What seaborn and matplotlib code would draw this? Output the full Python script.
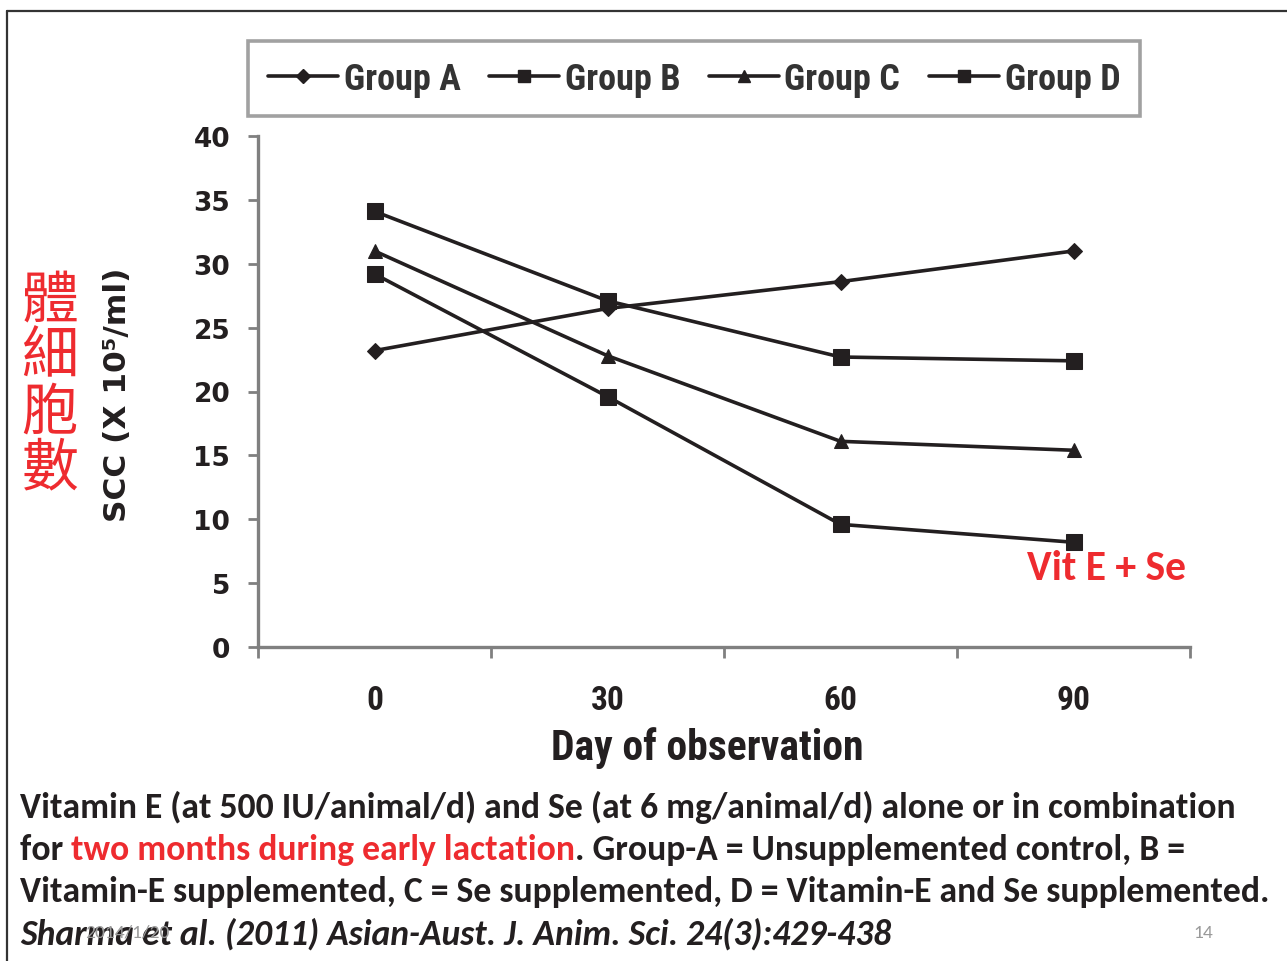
import matplotlib
matplotlib.use("Agg")
import matplotlib.pyplot as plt
from matplotlib import font_manager
from matplotlib.lines import Line2D
import seaborn as sns
import pandas as pd

# ---------------- data ----------------
days = ["0", "30", "60", "90"]
group_a = [23.2, 26.5, 28.6, 31.0]
group_b = [34.1, 27.1, 22.7, 22.4]
group_c = [31.0, 22.8, 16.1, 15.4]
group_d = [29.2, 19.6, 9.6, 8.2]
group_names = ["Group A", "Group B", "Group C", "Group D"]
y_ticks = [0, 5, 10, 15, 20, 25, 30, 35, 40]
x_title = "Day of observation"
y_title = "SCC (X 10\u2075/ml)"
cjk_title = ["體", "細", "胞", "數"]
note = "Vit E + Se"
caption1 = "Vitamin E (at 500 IU/animal/d) and Se (at 6 mg/animal/d) alone or in combination"
caption2 = ["for ", "two months during early lactation", ". Group-A = Unsupplemented control, B ="]
caption3 = "Vitamin-E supplemented, C = Se supplemented, D = Vitamin-E and Se supplemented."
caption4 = "Sharma et al. (2011) Asian-Aust. J. Anim. Sci. 24(3):429-438"
date_txt = "2014/1/20"
page_txt = "14"

markers = ["D", "s", "^", "s"]
msizes = [8, 11, 10, 11]

df = pd.DataFrame({
    "day": days * 4,
    "scc": group_a + group_b + group_c + group_d,
    "group": [g for g in group_names for _ in days],
})

sns.set_style("white")

available = {f.name for f in font_manager.fontManager.ttflist}
def pick(cands):
    for c in cands:
        if c in available:
            return c
    return "DejaVu Sans"

narrow = pick(["Liberation Sans Narrow", "DejaVu Sans Condensed", "Roboto Condensed", "Liberation Sans"])
wide = pick(["DejaVu Sans"])
calib = pick(["Carlito", "Lato", "Open Sans"])
plt.rcParams["font.family"] = [narrow, "DejaVu Sans"]

INK = "#231f20"
GREY = "#8a8a8a"
RED = "#ee2b2f"

W, H = 1287, 962
fig = plt.figure(figsize=(W / 100, H / 100), dpi=100)
fig.patch.set_facecolor("white")

def fx(px):
    return px / W

def fy(py):
    return 1 - py / H

ax = fig.add_axes([fx(258), fy(648), fx(1190) - fx(258), fy(137) - fy(648)])

for g, m, ms in zip(group_names, markers, msizes):
    sub = df[df["group"] == g]
    sns.lineplot(data=sub, x="day", y="scc", ax=ax, color=INK, marker=m,
                 markersize=ms, markeredgecolor=INK, markerfacecolor=INK,
                 linewidth=2.6, sort=False, legend=False)

ax.set_xlim(-0.5, 3.5)
ax.set_ylim(0, 40)
ax.set_xlabel("")
ax.set_ylabel("")
for s in ["top", "right"]:
    ax.spines[s].set_visible(False)
for s in ["left", "bottom"]:
    ax.spines[s].set_color("#808080")
    ax.spines[s].set_linewidth(2.4)

ax.set_yticks(y_ticks)
ax.set_yticklabels([str(v) for v in y_ticks])
ax.tick_params(axis="y", which="major", left=True, direction="out", length=7,
               width=2, color="#808080", pad=13, labelcolor=INK)
for lab in ax.get_yticklabels():
    lab.set_fontfamily(wide)
    lab.set_fontweight("bold")
    lab.set_fontsize(19)

ax.set_xticks(range(len(days)))
ax.set_xticklabels(days)
ax.tick_params(axis="x", which="major", bottom=True, length=0, pad=27, labelcolor=INK)
for lab in ax.get_xticklabels():
    lab.set_fontfamily(narrow)
    lab.set_fontweight("bold")
    lab.set_fontsize(24)
ax.set_xticks([i - 0.5 for i in range(len(days) + 1)], minor=True)
ax.tick_params(axis="x", which="minor", bottom=True, direction="out", length=8,
               width=2, color="#808080")

# legend
handles = [Line2D([0], [0], color=INK, lw=2.6, marker=m, markersize=ms * 0.85,
                  markerfacecolor=INK, markeredgecolor=INK)
           for m, ms in zip(markers, msizes)]
leg = fig.legend(handles, group_names, ncol=4, loc="center",
                 bbox_to_anchor=(fx(248), fy(119), fx(1140) - fx(248), fy(40) - fy(119)),
                 mode="expand", borderaxespad=0, frameon=True, fancybox=False,
                 edgecolor=GREY, handlelength=1.95, handletextpad=0.15,
                 borderpad=0.55,
                 prop={"family": narrow, "weight": "bold", "size": 26})
leg.get_frame().set_linewidth(2.6)
for t in leg.get_texts():
    t.set_color("#333333")

# axis titles
fig.text(fx(707), fy(748), x_title, ha="center", va="center", fontsize=30,
         fontweight="bold", family=narrow, color=INK)
fig.text(fx(118), fy(395), y_title, ha="center", va="center", rotation=90,
         fontsize=22.5, fontweight="bold", family=wide, color=INK)

for i, ch in enumerate(cjk_title):
    fig.text(fx(50), fy(301 + 56 * i), ch, ha="center", va="center", fontsize=41,
             family=["Noto Sans CJK TC", "DejaVu Sans"], color=RED)

fig.text(fx(1027), fy(569), note, ha="left", va="center", fontsize=30,
         fontweight="bold", family=calib, color=RED)

# slide border
fig.add_artist(Line2D([fx(7), fx(7)], [fy(12), fy(962)], color="#333333", lw=1.6))
fig.add_artist(Line2D([fx(7), fx(1287)], [fy(12), fy(12)], color="#333333", lw=1.6))

# captions
renderer = fig.canvas.get_renderer()
t1 = fig.text(fx(20), fy(818), caption1, ha="left", va="baseline", fontsize=20,
              fontweight="bold", family=calib, color=INK)
w1 = t1.get_window_extent(renderer).width
cap_fs = 20 * 1214 / w1
t1.set_fontsize(cap_fs)

x_cur = fx(20)
for j, part in enumerate(caption2):
    t = fig.text(x_cur, fy(860), part, ha="left", va="baseline", fontsize=cap_fs,
                 fontweight="bold", family=calib, color=RED if j == 1 else INK)
    x_cur += t.get_window_extent(renderer).width / W

fig.text(fx(20), fy(902), caption3, ha="left", va="baseline", fontsize=cap_fs,
         fontweight="bold", family=calib, color=INK)
fig.text(fx(20), fy(945), caption4, ha="left", va="baseline", fontsize=cap_fs,
         fontweight="bold", style="italic", family=calib, color=INK)

# slide footer (date overlaps the citation in the original slide)
fig.text(fx(85), fy(938), date_txt, ha="left", va="baseline", fontsize=14,
         family=calib, color="#9a9a9a")
fig.text(fx(1213), fy(938), page_txt, ha="right", va="baseline", fontsize=14,
         family=calib, color="#9a9a9a")

fig.savefig("out.png", dpi=100, facecolor="white")
